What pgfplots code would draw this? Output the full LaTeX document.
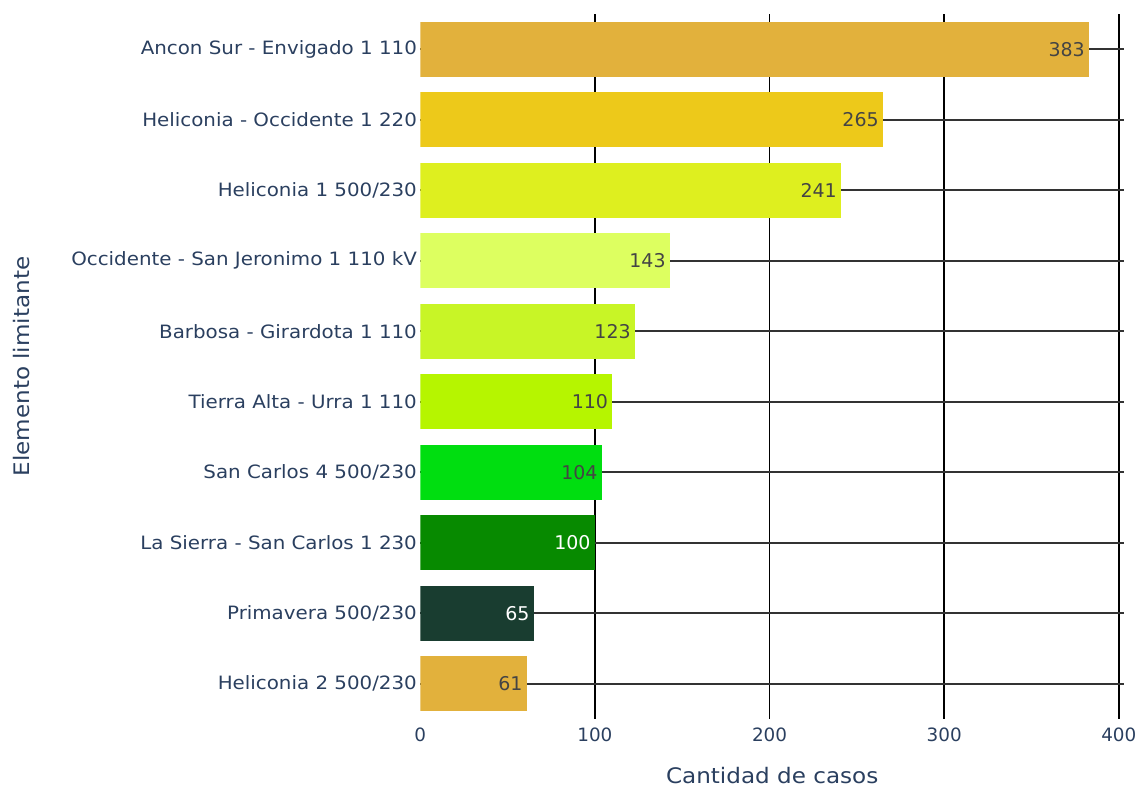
\documentclass[border=0pt]{standalone}
\usepackage{fontspec}
\setmainfont{DejaVu Sans}
\newfontfamily\wide{DejaVu Sans}[FakeStretch=1.08]
\usepackage{pgfplots}
\pgfplotsset{compat=1.18}

\definecolor{txt}{HTML}{2A3F5F}
\definecolor{c1}{HTML}{E2B13C}
\definecolor{c2}{HTML}{EDC91A}
\definecolor{c3}{HTML}{DEEF1F}
\definecolor{c4}{HTML}{DDFF60}
\definecolor{c5}{HTML}{C8F526}
\definecolor{c6}{HTML}{B6F500}
\definecolor{c7}{HTML}{00DE10}
\definecolor{c8}{HTML}{078A00}
\definecolor{c9}{HTML}{193D30}
\definecolor{lbl}{HTML}{444444}

% one bar: coordinate, fill colour, label colour
\newcommand\onebar[3]{\addplot[fill=#2,draw=none,nodes near coords,
  nodes near coords style={text=#3}] coordinates {(#1)};}

\begin{document}
\begin{tikzpicture}[font=\fontsize{9.2}{11}\selectfont]
\path (-210.5pt,-34.35pt) rectangle (361pt,360.1pt);
\begin{axis}[at={(0,0)},anchor=south west,scale only axis,
 width=352.5pt,height=353pt,
 xmin=0,xmax=403,ymin=-0.5,ymax=9.5,y dir=reverse,
 xbar,bar width=0.78,bar shift=0pt,
 /pgf/number format/assume math mode=true,
 ytick={0,...,9},
 yticklabels={Ancon Sur - Envigado 1 110,Heliconia - Occidente 1 220,Heliconia 1 500/230,
  Occidente - San Jeronimo 1 110 kV,Barbosa - Girardota 1 110,Tierra Alta - Urra 1 110,
  San Carlos 4 500/230,La Sierra - San Carlos 1 230,Primavera 500/230,Heliconia 2 500/230},
 xtick={100,200,300,400},extra x ticks={0},extra x tick style={grid=none},
 xmajorgrids,ymajorgrids,
 x grid style={black,line width=0.8pt},
 y grid style={black!80,line width=1pt},
 axis line style={draw=none},major tick length=0pt,
 tick label style={text=txt},
 xticklabel style={yshift=-1pt},
 yticklabel style={inner xsep=1.5pt,font=\wide\fontsize{9.2}{11}\selectfont},
 xlabel={Cantidad de casos},
 xlabel style={at={(axis description cs:0.5,0)},anchor=center,yshift=-28.5pt,
  text=txt,font=\wide\fontsize{10.7}{12}\selectfont},
 ylabel={Elemento limitante},
 ylabel style={at={(axis description cs:-0.566,0.5)},anchor=center,
  text=txt,font=\wide\fontsize{10.7}{12}\selectfont},
 every node near coord/.append style={anchor=east,inner xsep=0pt,xshift=-2pt,
  font=\fontsize{9.5}{11}\selectfont},
]
\onebar{383,0}{c1}{lbl}
\onebar{265,1}{c2}{lbl}
\onebar{241,2}{c3}{lbl}
\onebar{143,3}{c4}{lbl}
\onebar{123,4}{c5}{lbl}
\onebar{110,5}{c6}{lbl}
\onebar{104,6}{c7}{lbl}
\onebar{100,7}{c8}{white}
\onebar{65,8}{c9}{white}
\onebar{61,9}{c1}{lbl}
\end{axis}
\end{tikzpicture}
\end{document}
